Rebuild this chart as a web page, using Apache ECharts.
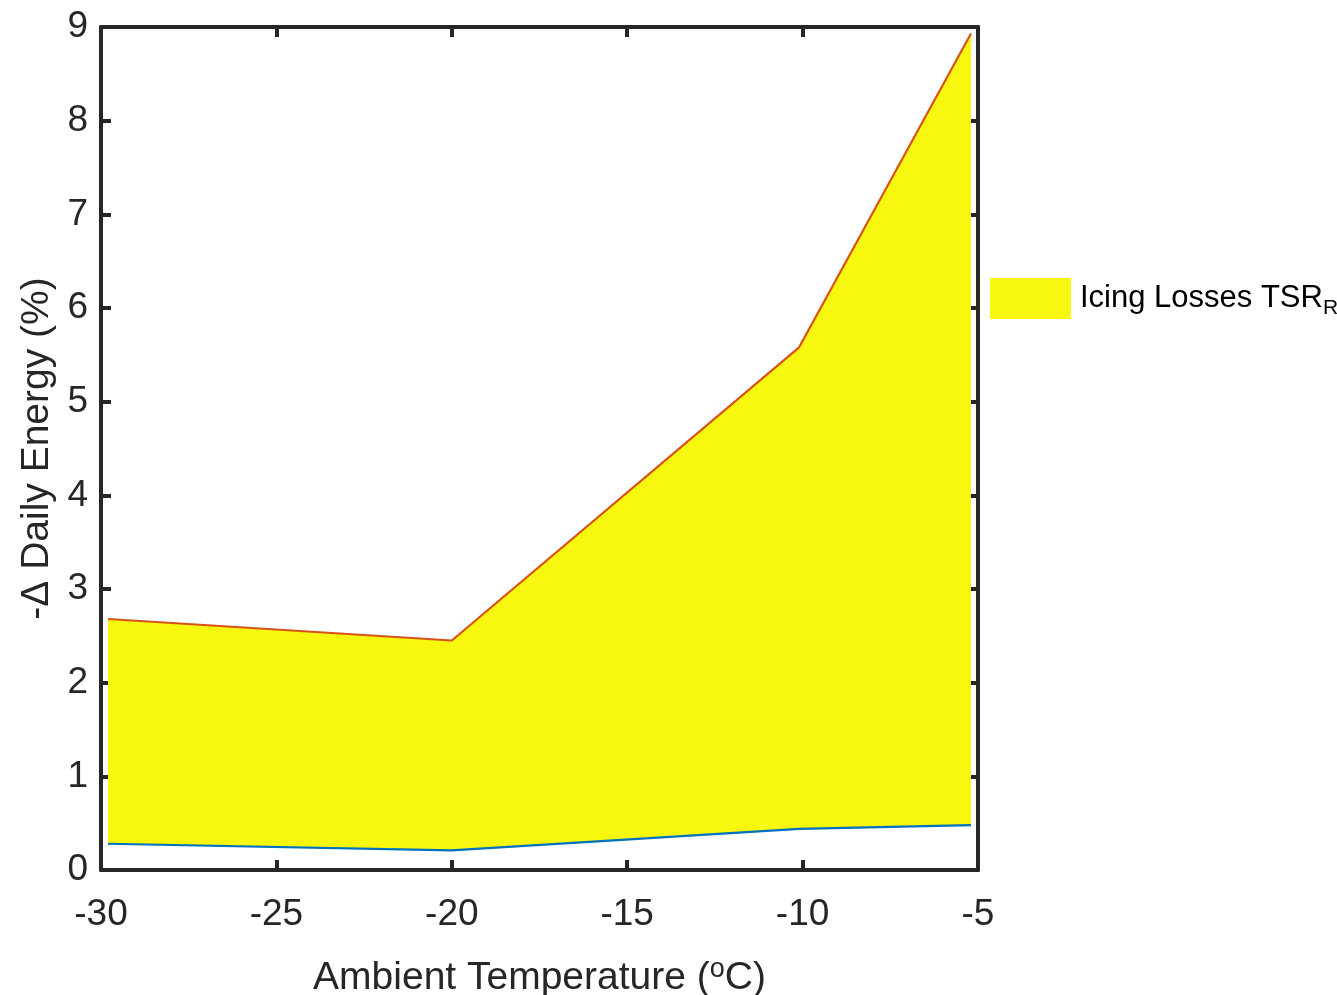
<!DOCTYPE html>
<html>
<head>
<meta charset="utf-8">
<script src="https://cdn.jsdelivr.net/npm/echarts@6/dist/echarts.min.js"></script>
<style>
  html, body { margin: 0; padding: 0; background: #fff; }
  #main { width: 1337px; height: 995px; }
</style>
</head>
<body>
<div id="main"></div>
<script>
var temps = [-29.8, -20, -10.1, -5.2];
var upperLoss = [2.68, 2.45, 5.58, 8.93];
var lowerLoss = [0.28, 0.21, 0.44, 0.48];

var xTicks = { min: -30, max: -5, interval: 5 };
var yTicks = { min: 0, max: 9, interval: 1 };

var axisColor = '#262626';
var fillColor = '#f7f70f';
var font = 'Liberation Sans, Arial, Helvetica, sans-serif';

var chartDom = document.getElementById('main');
var myChart = echarts.init(chartDom);

var lowerData = temps.map(function (t, i) { return [t, lowerLoss[i]]; });
var upperData = temps.map(function (t, i) { return [t, upperLoss[i]]; });

function frameAxis(extra) {
  return Object.assign({
    type: 'value',
    axisLine: { show: true, onZero: false, lineStyle: { color: axisColor, width: 4 } },
    axisTick: { show: true, inside: true, length: 10, lineStyle: { color: axisColor, width: 4 } },
    splitLine: { show: false },
    axisLabel: { show: false }
  }, extra);
}

// band between the two curves, one polygon
function renderBand(params, api) {
  var pts = [];
  for (var i = 0; i < temps.length; i++) pts.push(api.coord([temps[i], upperLoss[i]]));
  for (var j = temps.length - 1; j >= 0; j--) pts.push(api.coord([temps[j], lowerLoss[j]]));
  return {
    type: 'polygon',
    shape: { points: pts },
    style: { fill: fillColor, stroke: null }
  };
}

var option = {
  animation: false,
  textStyle: { fontFamily: font },
  grid: { left: 101, right: 359, top: 27, bottom: 125, outerBoundsMode: 'none', containLabel: false },
  legend: {
    left: 985,
    top: 273,
    orient: 'vertical',
    itemWidth: 81,
    itemHeight: 41,
    itemGap: 0,
    data: [{ name: 'Icing Losses TSR', icon: 'rect', itemStyle: { color: fillColor, borderWidth: 0 } }],
    formatter: function (name) { return name + '{sub|R}'; },
    textStyle: {
      fontFamily: font,
      fontSize: 31,
      color: '#000',
      padding: [0, 0, 0, 4],
      rich: {
        sub: { fontSize: 21, fontFamily: font, color: '#000', verticalAlign: 'bottom', padding: [20, 0, 0, 0] }
      }
    }
  },
  xAxis: [
    frameAxis({
      min: xTicks.min, max: xTicks.max, interval: xTicks.interval,
      position: 'bottom',
      axisLabel: { show: true, color: axisColor, fontSize: 37, margin: 26, fontFamily: font },
      name: 'Ambient Temperature ({sup|o}C)',
      nameLocation: 'middle',
      nameGap: 86,
      nameMoveOverlap: false,
      nameTextStyle: {
        color: axisColor, fontSize: 39, fontFamily: font,
        rich: { sup: { fontSize: 27, fontFamily: font, color: axisColor, verticalAlign: 'top', padding: [0, 0, 18, 0] } }
      }
    }),
    frameAxis({ min: xTicks.min, max: xTicks.max, interval: xTicks.interval, position: 'top' })
  ],
  yAxis: [
    frameAxis({
      min: yTicks.min, max: yTicks.max, interval: yTicks.interval,
      position: 'left',
      axisLabel: { show: true, color: axisColor, fontSize: 37, margin: 13, fontFamily: font },
      name: '-\u0394 Daily Energy (%)',
      nameLocation: 'middle',
      nameGap: 44,
      nameMoveOverlap: false,
      nameTextStyle: { color: axisColor, fontSize: 39, fontFamily: font }
    }),
    frameAxis({ min: yTicks.min, max: yTicks.max, interval: yTicks.interval, position: 'right' })
  ],
  series: [
    {
      name: 'Icing Losses TSR',
      type: 'custom',
      renderItem: renderBand,
      data: [[temps[0], upperLoss[0]]],
      encode: { x: 0, y: 1 },
      itemStyle: { color: fillColor },
      z: 1
    },
    {
      name: 'lower',
      type: 'line',
      data: lowerData,
      symbol: 'none',
      lineStyle: { color: '#0072bd', width: 2.2 },
      z: 3
    },
    {
      name: 'upper',
      type: 'line',
      data: upperData,
      symbol: 'none',
      lineStyle: { color: '#d95319', width: 2.2 },
      z: 3
    }
  ]
};

option && myChart.setOption(option);
</script>
</body>
</html>
